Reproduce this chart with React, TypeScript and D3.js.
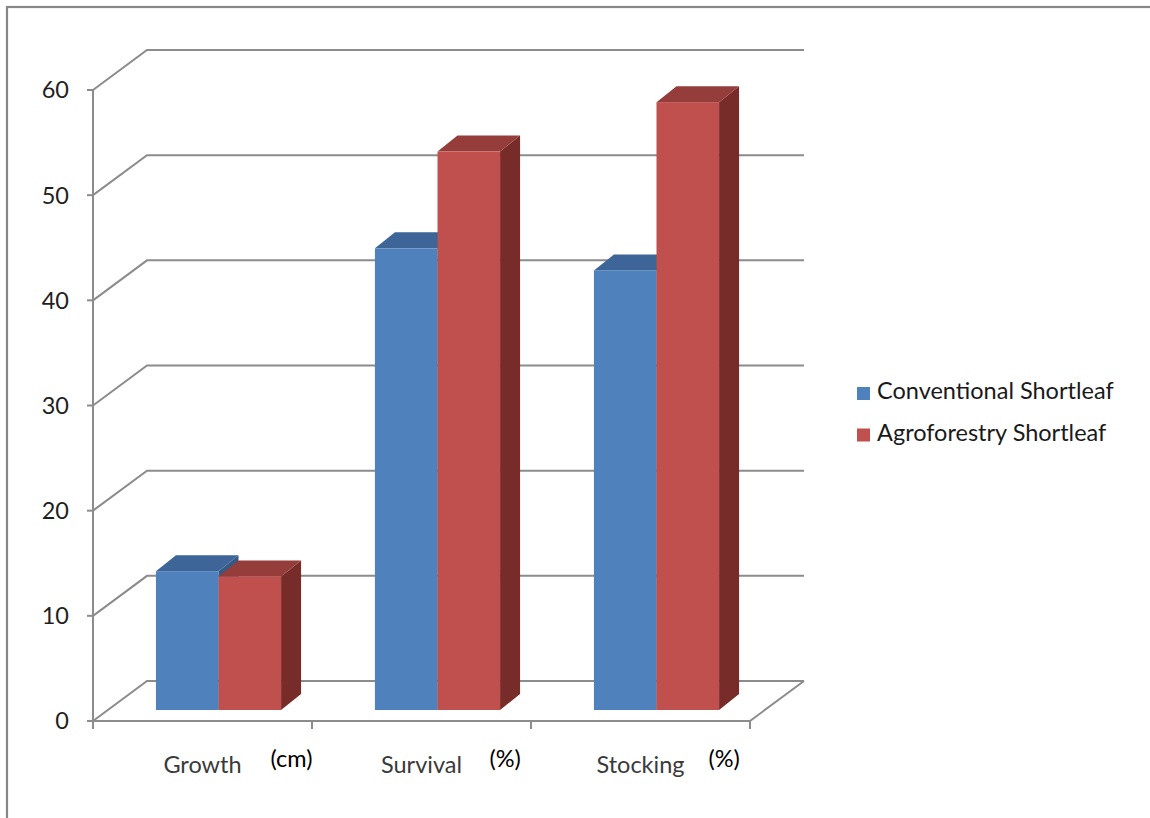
import React from "react";
import * as d3 from "d3";

const categories = ["Growth", "Survival", "Stocking"];
const units = ["(cm)", "(%)", "(%)"];
const seriesNames = ["Conventional Shortleaf", "Agroforestry Shortleaf"];
const conventional = [13.2, 43.9, 41.8];
const agroforestry = [12.7, 53.1, 57.8];
const yTicks = [0, 10, 20, 30, 40, 50, 60];

const W = 1150;
const H = 818;
const FONT = "Lato, 'Open Sans', sans-serif";
const FS = 23.5;

// Oblique 3D projection: the floor recedes by this vector.
const DEPTH = { dx: 54, dy: -40 };
// Bars stand slightly back from the front edge and have their own depth.
const BAR_FRONT = { dx: 16, dy: -11 };
const BAR_DEPTH = { dx: 20, dy: -16 };

const palette = [
  { front: "#4F81BD", top: "#3D6598", side: "#355985" },
  { front: "#C0504D", top: "#943D3A", side: "#772C2A" },
];

export default function App() {
  const x0 = 93;
  const x1 = 750;
  const y = d3.scaleLinear().domain([0, 60]).range([721, 90]);
  const x = d3.scaleBand<string>().domain(categories).range([x0, x1]).paddingInner(0).paddingOuter(0);
  const xs = d3
    .scaleBand<number>()
    .domain([0, 1])
    .range([0, x.bandwidth()])
    .paddingInner(0)
    .paddingOuter(0.75);

  const series = [conventional, agroforestry];
  const gridColor = "#8C8C8C";

  const bars: React.ReactNode[] = [];
  categories.forEach((cat, ci) => {
    series.forEach((vals, si) => {
      const v = vals[ci];
      const left = (x(cat) as number) + (xs(si) as number) + BAR_FRONT.dx;
      const right = left + xs.bandwidth();
      const bottom = y(0) + BAR_FRONT.dy;
      const top = y(v) + BAR_FRONT.dy;
      const c = palette[si];
      const { dx, dy } = BAR_DEPTH;
      bars.push(
        <g key={`${ci}-${si}`}>
          <polygon
            points={`${right},${top} ${right + dx},${top + dy} ${right + dx},${bottom + dy} ${right},${bottom}`}
            fill={c.side}
          />
          <polygon
            points={`${left},${top} ${left + dx},${top + dy} ${right + dx},${top + dy} ${right},${top}`}
            fill={c.top}
          />
          <rect x={left} y={top} width={right - left} height={bottom - top} fill={c.front} />
        </g>
      );
    });
  });

  return (
    <svg
      width={W}
      height={H}
      style={{ position: "absolute", left: 0, top: 0, background: "#fff" }}
      fontFamily={FONT}
    >
      <rect x={7} y={7} width={W + 20} height={H + 20} fill="#fff" stroke="#878787" strokeWidth={2.2} />

      {/* walls: gridlines run diagonally from the value axis to the back wall */}
      {yTicks.map((t) => (
        <polyline
          key={`g${t}`}
          points={`${x0},${y(t)} ${x0 + DEPTH.dx},${y(t) + DEPTH.dy} ${x1 + DEPTH.dx},${y(t) + DEPTH.dy}`}
          fill="none"
          stroke={gridColor}
          strokeWidth={2}
        />
      ))}

      {/* floor front edge and right edge */}
      <polyline
        points={`${x0},${y(0)} ${x1},${y(0)} ${x1 + DEPTH.dx},${y(0) + DEPTH.dy}`}
        fill="none"
        stroke={gridColor}
        strokeWidth={2}
      />

      {/* value axis */}
      <line x1={x0} y1={y(0)} x2={x0} y2={y(60)} stroke={gridColor} strokeWidth={2} />
      {yTicks.map((t) => (
        <g key={`yt${t}`}>
          <line x1={x0 - 6} x2={x0} y1={y(t)} y2={y(t)} stroke={gridColor} strokeWidth={2} />
          <text x={69} y={y(t)} dy="0.36em" textAnchor="end" fontSize={FS} fill="#1f1f1f">
            {t}
          </text>
        </g>
      ))}

      {/* category axis ticks */}
      {[...categories.map((c) => x(c) as number), x1].map((px, i) => (
        <line key={`xt${i}`} x1={px} x2={px} y1={y(0)} y2={y(0) + 8} stroke={gridColor} strokeWidth={2} />
      ))}

      {bars}

      {categories.map((c, i) => {
        const cx = (x(c) as number) + x.bandwidth() / 2;
        return (
          <g key={`xl${c}`}>
            <text x={cx} y={773} textAnchor="middle" fontSize={FS} fill="#3a3a3a">
              {c}
            </text>
            <text x={cx + 68} y={767} textAnchor="start" fontSize={FS} fill="#000">
              {units[i]}
            </text>
          </g>
        );
      })}

      {seriesNames.map((name, i) => (
        <g key={name} transform={`translate(857, ${387 + i * 41.5})`}>
          <rect width={13} height={13} fill={palette[i].front} />
          <text x={20} y={12} fontSize={FS} fill="#1a1a1a">
            {name}
          </text>
        </g>
      ))}
    </svg>
  );
}
